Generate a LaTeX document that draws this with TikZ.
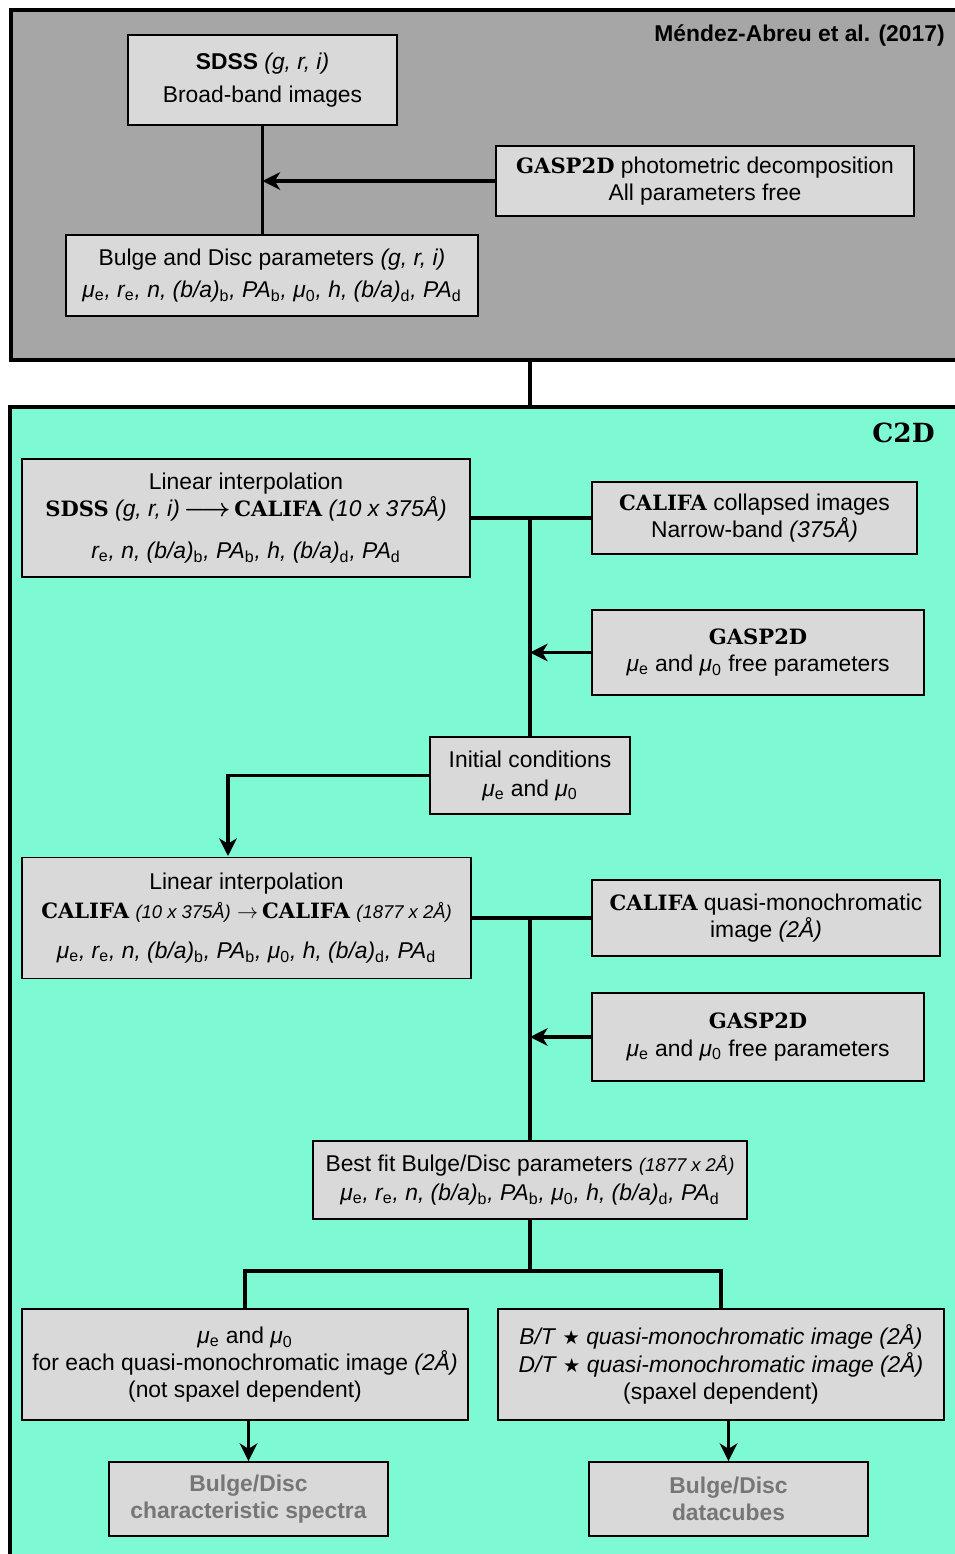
\documentclass[tikz,border=0pt]{standalone}
\usepackage{fontspec}
\usepackage{amsmath}
\setmainfont{Liberation Sans}
\newfontfamily\slabfont{DejaVu Serif}
\newfontfamily\starfont{DejaVu Sans}
\usetikzlibrary{arrows.meta}

\definecolor{panelgray}{RGB}{166,166,166}
\definecolor{c2dteal}{RGB}{125,250,212}
\definecolor{boxgray}{RGB}{217,217,217}
\definecolor{resgray}{RGB}{118,118,118}

\newcommand\slab[1]{{\slabfont\bfseries\fontsize{12}{15}\selectfont #1}}
\newcommand\lo[1]{\textsubscript{\upshape #1}}
\newcommand\smallit[1]{{\fontsize{10.5}{13}\selectfont\itshape #1}}
\newcommand\strmark{{\starfont\upshape\fontsize{11}{13}\selectfont ★}}

\begin{document}
\begin{tikzpicture}[x=0.02cm, y=-0.02cm,
    every node/.style={font=\fontsize{13}{15.5}\selectfont, inner sep=0pt},
    panel/.style={draw, line width=2pt},
    box/.style={draw, fill=boxgray, line width=1.1pt, align=center},
    result/.style={box, text=resgray, font=\fontsize{13}{15.5}\selectfont\bfseries},
    link/.style={line width=2.2pt},
    flow/.style={link, -{Stealth[length=10pt,width=10pt,inset=3pt]}}]
    \useasboundingbox (0,0) rectangle (955,1554);
    \clip (0,0) rectangle (955,1554);

    % panels
    \node[panel, fill=panelgray, minimum width=18.92cm, minimum height=7cm] (photpanel) at (484,185) {};
    \node[panel, fill=c2dteal, minimum width=18.94cm, minimum height=23.06cm] (c2dpanel) at (483.5,983.5) {};
    \node[anchor=east, font=\fontsize{13}{15}\selectfont\bfseries] (refnote) at (945,35) {Méndez-Abreu et al. (2017)};
    \node[anchor=east, font=\fontsize{15}{18}\selectfont\slabfont\bfseries] (c2dlabel) at (935,433) {C2D};

    % photometric part
    \node[box, minimum width=5.38cm, minimum height=1.8cm] (sdss) at (262.5,80)
        {{\bfseries SDSS} \textit{(g, r, i)}\\[3pt]Broad-band images};
    \node[box, minimum width=8.36cm, minimum height=1.4cm] (gaspphot) at (705,181)
        {\slab{GASP2D} photometric decomposition\\All parameters free};
    \node[box, minimum width=8.24cm, minimum height=1.62cm] (bdpar) at (272,275.5)
        {Bulge and Disc parameters \textit{(g, r, i)}\\[3pt]
         \textit{μ\lo{e}, r\lo{e}, n, (b/a)\lo{b}, PA\lo{b}, μ\lo{0}, h, (b/a)\lo{d}, PA\lo{d}}};

    % C2D part
    \node[box, minimum width=8.96cm, minimum height=2.36cm] (lin1) at (246,518)
        {Linear interpolation\\
         \slab{SDSS} \textit{(g, r, i)}\,\scalebox{1.2}{$\boldsymbol{\longrightarrow}$}\,\slab{CALIFA} \textit{(10 x 375Å)}\\[8pt]
         \textit{r\lo{e}, n, (b/a)\lo{b}, PA\lo{b}, h, (b/a)\lo{d}, PA\lo{d}}};
    \node[box, minimum width=6.5cm, minimum height=1.44cm] (collapsed) at (754.5,518)
        {\slab{CALIFA} collapsed images\\Narrow-band \textit{(375Å)}};
    \node[box, minimum width=6.64cm, minimum height=1.7cm] (gasp1) at (758,652.5)
        {\slab{GASP2D}\\ \textit{μ}\lo{e} and \textit{μ}\lo{0} free parameters};
    \node[box, minimum width=4cm, minimum height=1.54cm] (init) at (530,775.5)
        {Initial conditions\\[1pt] \textit{μ}\lo{e} and \textit{μ}\lo{0}};
    \node[box, minimum width=8.98cm, minimum height=2.42cm] (lin2) at (246.5,918)
        {Linear interpolation\\[1pt]
         \slab{CALIFA} \smallit{(10 x 375Å)} $\rightarrow$\,\slab{CALIFA} \smallit{(1877 x 2Å)}\\[7pt]
         \textit{μ\lo{e}, r\lo{e}, n, (b/a)\lo{b}, PA\lo{b}, μ\lo{0}, h, (b/a)\lo{d}, PA\lo{d}}};
    \node[box, minimum width=6.96cm, minimum height=1.52cm] (quasi) at (766,918)
        {\slab{CALIFA} quasi-monochromatic\\image \textit{(2Å)}};
    \node[box, minimum width=6.64cm, minimum height=1.76cm] (gasp2) at (758,1037)
        {\slab{GASP2D}\\ \textit{μ}\lo{e} and \textit{μ}\lo{0} free parameters};
    \node[box, minimum width=8.68cm, minimum height=1.56cm] (best) at (530,1180)
        {Best fit Bulge/Disc parameters \smallit{(1877 x 2Å)}\\[1pt]
         \textit{μ\lo{e}, r\lo{e}, n, (b/a)\lo{b}, PA\lo{b}, μ\lo{0}, h, (b/a)\lo{d}, PA\lo{d}}};
    \node[box, minimum width=8.92cm, minimum height=2.22cm] (mus) at (245,1364.5)
        {\textit{μ}\lo{e} and \textit{μ}\lo{0}\\for each quasi-monochromatic image \textit{(2Å)}\\(not spaxel dependent)};
    \node[box, minimum width=8.92cm, minimum height=2.22cm] (bt) at (721,1364.5)
        {\textit{B/T} \strmark\ \textit{quasi-monochromatic image (2Å)}\\
         \textit{D/T} \strmark\ \textit{quasi-monochromatic image (2Å)}\\(spaxel dependent)};
    \node[result, minimum width=5.58cm, minimum height=1.48cm] (spec) at (248.5,1499)
        {Bulge/Disc\\characteristic spectra};
    \node[result, minimum width=5.58cm, minimum height=1.48cm] (cubes) at (728.5,1499)
        {Bulge/Disc\\datacubes};

    \coordinate (drop) at (228,856);
    \coordinate (split) at (530,1271);

    % connectors
    \draw[link] (sdss.south) -- (sdss.south |- bdpar.north);
    \draw[flow] (gaspphot.west) -- (gaspphot.west -| sdss.south);
    \draw[link] (photpanel.south -| best.north) -- (c2dpanel.north -| best.north);
    \draw[link] (lin1.east) -- (collapsed.west);
    \draw[link] (lin1.east -| init.north) -- (init.north);
    \draw[flow] (gasp1.west) -- (gasp1.west -| init.north);
    \draw[flow] (init.west) -| (drop);
    \draw[link] (lin2.east) -- (quasi.west);
    \draw[link] (lin2.east -| best.north) -- (best.north);
    \draw[flow] (gasp2.west) -- (gasp2.west -| best.north);
    \draw[link] (best.south) -- (split);
    \draw[link] (mus.north) |- (split) -| (bt.north);
    \draw[flow] (mus.south -| spec.north) -- (spec.north);
    \draw[flow] (bt.south -| cubes.north) -- (cubes.north);
\end{tikzpicture}
\end{document}
